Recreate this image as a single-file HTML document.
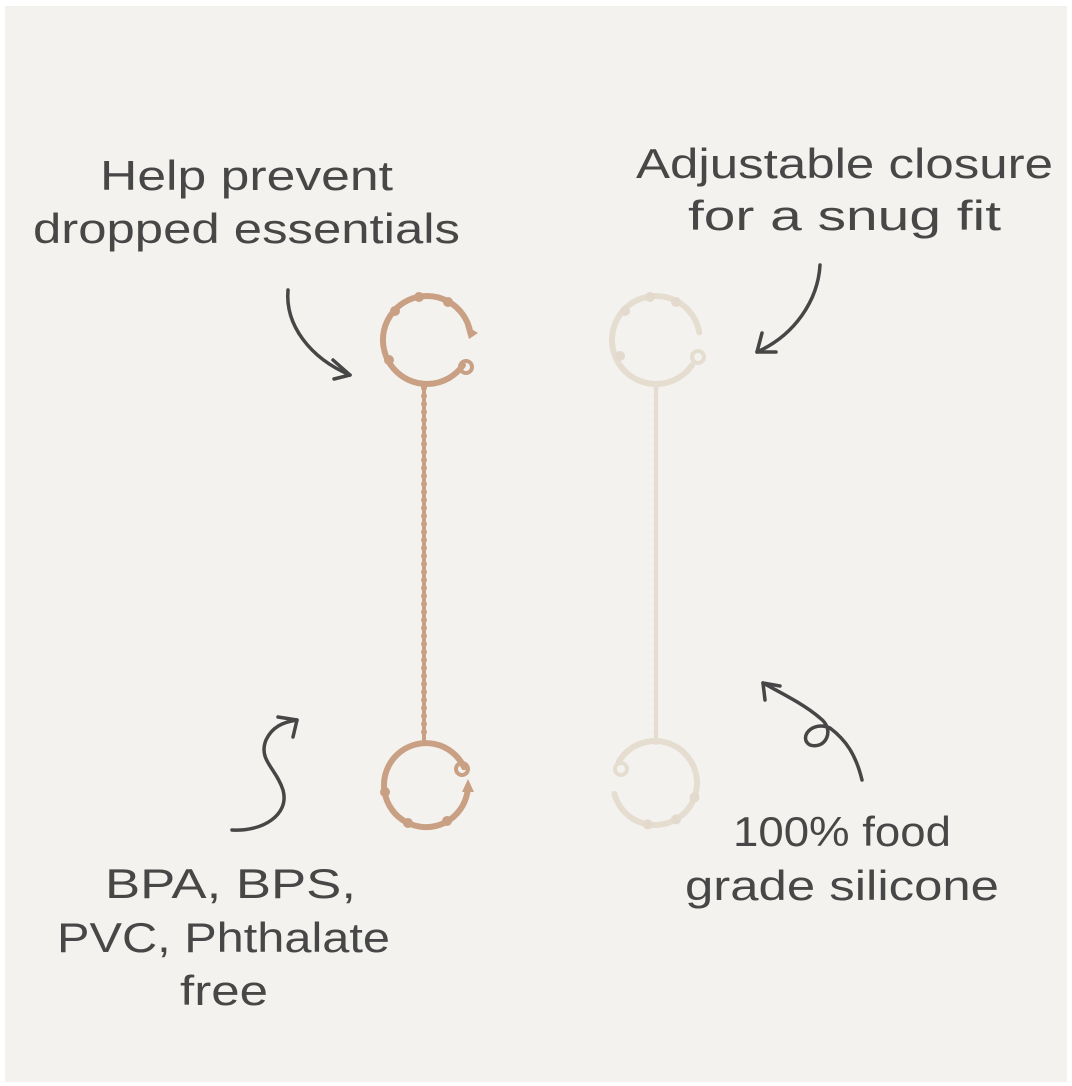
<!DOCTYPE html>
<html><head><meta charset="utf-8"><style>
html,body{margin:0;padding:0;background:#fff;}
svg{display:block;}
text{font-family:"Liberation Sans",sans-serif;fill:#474747;font-size:42px;}
</style></head><body>
<svg width="1072" height="1086" viewBox="0 0 1072 1086" xmlns="http://www.w3.org/2000/svg">
<rect x="0" y="0" width="1072" height="1086" fill="#fff"/>
<rect x="5" y="6" width="1062" height="1076" fill="#f3f2ee"/>

<text x="100" y="190" textLength="293" lengthAdjust="spacingAndGlyphs">Help prevent</text>
<text x="33" y="243" textLength="427" lengthAdjust="spacingAndGlyphs">dropped essentials</text>
<text x="636" y="178" textLength="417" lengthAdjust="spacingAndGlyphs">Adjustable closure</text>
<text x="688" y="230" textLength="313" lengthAdjust="spacingAndGlyphs">for a snug fit</text>
<text x="105" y="898" textLength="251" lengthAdjust="spacingAndGlyphs">BPA, BPS,</text>
<text x="57" y="952" textLength="333" lengthAdjust="spacingAndGlyphs">PVC, Phthalate</text>
<text x="180" y="1005" textLength="88" lengthAdjust="spacingAndGlyphs">free</text>
<text x="733" y="846" textLength="218" lengthAdjust="spacingAndGlyphs">100% food</text>
<text x="685" y="900" textLength="314" lengthAdjust="spacingAndGlyphs">grade silicone</text>

<g fill="none" stroke="#464646" stroke-width="3.5" stroke-linecap="round" stroke-linejoin="round">
<path d="M288 290 C285 325 310 358 350 375"/>
<path d="M333 360 L350 375 L334 379"/>
<path d="M820 265 C818 300 795 335 757 352"/>
<path d="M762 333 L757 352 L776 352"/>
<path d="M232 830 C262 832 290 815 283 790 C276 768 258 760 266 740 C272 727 283 722 297 720"/>
<path d="M278 717 L297 720 L293 737"/>
<path d="M862 780 C856 755 846 740 830 728 C812 720 798 738 810 745 C825 750 836 730 820 718 C805 705 785 695 763 683"/>
<path d="M765 700 L763 683 L780 686"/>
</g>

<!-- left strap -->
<g fill="none" stroke="#c9a083" stroke-linecap="round">
<path d="M470.3 332.4 A44 44 0 1 0 463 365.2" stroke-width="6"/>
<circle cx="466" cy="367" r="6" stroke-width="4"/>
<line x1="424" y1="384" x2="424" y2="743" stroke-width="4"/>
<line x1="424" y1="388" x2="424" y2="740" stroke-width="6" stroke-dasharray="0 8"/>
<path d="M464 767.2 A42 42 0 1 0 467.4 792.3" stroke-width="6"/>
<circle cx="462" cy="769" r="6" stroke-width="4"/>
</g>
<g fill="#c9a083">
<circle cx="419" cy="297" r="5"/><circle cx="448" cy="302" r="5"/><circle cx="395" cy="311" r="5"/><circle cx="389" cy="360" r="5"/>
<path d="M465 325 L478 333 L469 339 Z"/>
<path d="M462 792 L468 779 L474 792 Z"/>
<circle cx="385" cy="792" r="5"/><circle cx="408" cy="823" r="5"/><circle cx="447" cy="821" r="5"/>
</g>

<!-- right strap -->
<g fill="none" stroke="#e6ddd1" stroke-linecap="round">
<path d="M699.3 332.4 A44 44 0 1 0 692 365.2" stroke-width="6"/>
<circle cx="698" cy="357" r="6" stroke-width="4"/>
<line x1="656" y1="384" x2="656" y2="743" stroke-width="4"/>
<line x1="656" y1="388" x2="656" y2="740" stroke-width="5" stroke-dasharray="0 8"/>
<path d="M618.6 762 A42 42 0 1 1 614.4 793.9" stroke-width="6"/>
<circle cx="621" cy="769" r="6" stroke-width="4"/>
</g>
<g fill="#e3d9cc">
<circle cx="650" cy="297" r="5"/><circle cx="676" cy="302" r="5"/><circle cx="625" cy="311" r="5"/><circle cx="620" cy="356" r="5"/>
<circle cx="694.5" cy="797.4" r="5"/><circle cx="676" cy="819.4" r="5"/><circle cx="647.7" cy="824.4" r="5"/>
</g>
</svg>
</body></html>
